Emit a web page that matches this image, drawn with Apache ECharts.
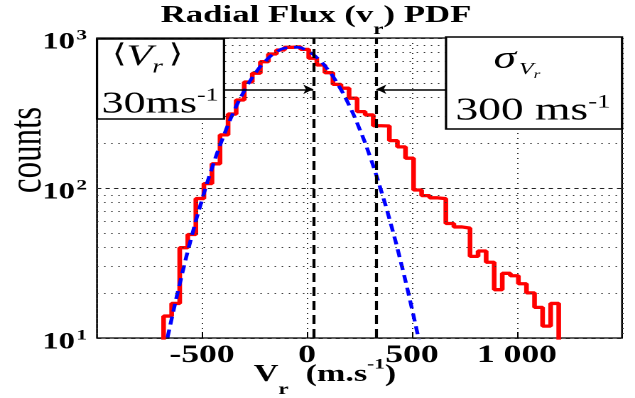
<!DOCTYPE html>
<html>
<head>
<meta charset="utf-8">
<script src="https://cdn.jsdelivr.net/npm/echarts@6/dist/echarts.min.js"></script>
<style>
  html, body { margin: 0; padding: 0; background: #fff; overflow: hidden; }
  #wrap { position: relative; width: 635px; height: 398px; overflow: hidden; }
  #chart { position: absolute; left: 0; top: 0; height: 398px; transform-origin: 0 0; }
</style>
</head>
<body>
<div id="wrap"><div id="chart"></div></div>
<script>
// ---------------- data ----------------
// histogram of radial velocity: bin edges (m/s) and counts per bin
const binEdges = [-683, -644.6, -606.2, -567.8, -529.4, -491, -452.6, -414.2, -375.8, -337.4,
  -299, -260.6, -222.2, -183.8, -145.4, -107, -68.6, -30.2, 8.2, 46.6,
  85, 123.4, 161.8, 200.2, 238.6, 277, 315.4, 353.8, 392.2, 430.6,
  469, 507.4, 545.8, 584.2, 622.6, 661, 699.4, 737.8, 776.2, 814.6,
  853, 891.4, 929.8, 968.2, 1006.6, 1045, 1083.4, 1121.8, 1160.2, 1198.6];
const binCounts = [14, 17, 40, 49, 85, 107, 145, 226, 311, 386,
  509, 582, 695, 782, 832, 867, 874, 840, 733, 661,
  587, 491, 463, 397, 323, 307, 260, 259, 207, 188,
  158, 97, 89, 86, 85, 58, 55, 54, 35, 38,
  32, 21, 27, 26, 23, 20, 16, 12, 17];

// Gaussian fit curve, sampled points
const fitV = [-690, -650, -600, -550, -500, -450, -400, -350, -300, -250, -200, -150, -100,
  -50, 0, 50, 100, 150, 200, 250, 300, 350, 400, 450, 500, 550];
const fitCounts = [6.8, 12.4, 24.9, 47.1, 83.5, 139, 217, 320, 441, 572, 697, 798, 858,
  867, 822, 733, 614, 483, 357, 248, 162, 99, 57, 30.8, 15.6, 7.5];

// statistics (m/s)
const meanV = 30;
const sigmaV = 300;

// axis ticks
const xTickValues = [-500, 0, 500, 1000];
const xTickTexts = ['-500', '0', '500', '1 000'];
const yTickValues = [10, 100, 1000];
const yTickExps = ['1', '2', '3'];
const yMinorValues = [20, 30, 40, 50, 60, 70, 80, 90, 200, 300, 400, 500, 600, 700, 800, 900];

// ---------------- layout ----------------
// the figure is drawn narrow and stretched horizontally to the page width
const W = 447;
const S = 635 / W;
const sx = px => px / S;
const chartEl = document.getElementById('chart');
chartEl.style.width = W + 'px';
chartEl.style.transform = 'scaleX(' + S + ')';

const serif = '"Liberation Serif", "Times New Roman", "DejaVu Serif", serif';

// step outline of the histogram
const stairs = [[binEdges[0], 1]];
binCounts.forEach((c, i) => {
  stairs.push([binEdges[i], c], [binEdges[i + 1], c]);
});
stairs.push([binEdges[binEdges.length - 1], 1]);

const fitData = fitV.map((v, i) => [v, fitCounts[i]]);

const arrowLevel = 455;

const chart = echarts.init(chartEl, null, { renderer: 'canvas', devicePixelRatio: 2 });

const option = {
  animation: false,
  textStyle: { fontFamily: serif },
  grid: {
    left: sx(97), right: W - sx(622), top: 38, bottom: 60,
    show: true, borderColor: '#000', borderWidth: 1.3, backgroundColor: '#fff'
  },
  xAxis: {
    type: 'value', min: -1000, max: 1500, interval: 500,
    axisLine: { show: false },
    axisTick: { show: true, inside: true, length: 6, lineStyle: { color: '#000', width: 1 } },
    axisLabel: {
      margin: 5, color: '#000', fontFamily: serif, fontWeight: 'bold', fontSize: 25,
      showMinLabel: false, showMaxLabel: false,
      formatter: v => {
        const i = xTickValues.indexOf(Math.round(v));
        return i >= 0 ? xTickTexts[i] : '';
      }
    },
    splitLine: { show: true, lineStyle: { color: '#333', width: 1, type: [1, 4] } }
  },
  yAxis: {
    type: 'log', logBase: 10, min: 10, max: 1000,
    axisLine: { show: false },
    axisTick: { show: false },
    axisLabel: {
      margin: 7,
      formatter: v => {
        const i = yTickValues.indexOf(Math.round(v));
        return i >= 0 ? '{b|10}{e|' + yTickExps[i] + '}' : '';
      },
      rich: {
        b: { fontFamily: serif, fontWeight: 'bold', fontSize: 23, color: '#000', lineHeight: 24, verticalAlign: 'top', padding: [5, 0, 0, 0] },
        e: { fontFamily: serif, fontWeight: 'bold', fontSize: 15, color: '#000', lineHeight: 15, verticalAlign: 'top', padding: [2, 0, 0, 1] }
      }
    },
    splitLine: { show: true, lineStyle: { color: '#222', width: 1, type: [3, 3] } }
  },
  series: [
    {
      type: 'line', data: [], z: 1, silent: true,
      markLine: {
        silent: true, symbol: ['none', 'none'], label: { show: false }, animation: false,
        lineStyle: { color: '#333', width: 1, type: [1, 4] },
        data: yMinorValues.map(v => ({ yAxis: v }))
      }
    },
    {
      type: 'line', name: 'counts', data: stairs, symbol: 'none', showSymbol: false,
      lineStyle: { color: '#ff0000', width: 3.3 }, z: 3, clip: true, silent: true
    },
    {
      type: 'line', name: 'fit', data: fitData, symbol: 'none', showSymbol: false, smooth: true,
      lineStyle: { color: '#0000ff', width: 2.7, type: [8, 5] }, z: 4, clip: true, silent: true
    },
    {
      type: 'line', data: [], z: 5, silent: true,
      markLine: {
        silent: true, symbol: ['none', 'none'], label: { show: false }, animation: false,
        lineStyle: { color: '#000', width: 2.1, type: [9, 5] },
        data: [{ xAxis: meanV }, { xAxis: meanV + sigmaV }]
      }
    },
    {
      type: 'line', data: [], z: 6, silent: true,
      markLine: {
        silent: true, symbol: ['none', 'arrow'], symbolSize: 7, label: { show: false }, animation: false,
        lineStyle: { color: '#000', width: 1.6, type: 'solid' },
        data: [
          [{ coord: [-396, arrowLevel] }, { coord: [meanV, arrowLevel] }],
          [{ coord: [663, arrowLevel] }, { coord: [meanV + sigmaV, arrowLevel] }]
        ]
      }
    }
  ],
  graphic: [
    // title
    {
      type: 'text', x: sx(316), y: 3, z: 100,
      style: {
        text: '{a|Radial Flux (v}{s|r}{a|) PDF}', align: 'center', verticalAlign: 'top',
        rich: {
          a: { fontFamily: serif, fontWeight: 'bold', fontSize: 24.5, lineHeight: 27, verticalAlign: 'top', fill: '#000' },
          s: { fontFamily: serif, fontWeight: 'bold', fontSize: 16, lineHeight: 14, verticalAlign: 'top', padding: [19, 0, 0, 0], fill: '#000' }
        }
      }
    },
    // x axis name
    {
      type: 'text', x: sx(325), y: 357, z: 100,
      style: {
        text: '{a|V}{s|r}{a|  (m.s}{p|-1}{a|)}', align: 'center', verticalAlign: 'top',
        rich: {
          a: { fontFamily: serif, fontWeight: 'bold', fontSize: 24, lineHeight: 25, verticalAlign: 'top', padding: [6, 0, 0, 0], fill: '#000' },
          s: { fontFamily: serif, fontWeight: 'bold', fontSize: 16, lineHeight: 14, verticalAlign: 'top', padding: [25, 0, 0, 0], fill: '#000' },
          p: { fontFamily: serif, fontWeight: 'bold', fontSize: 15, lineHeight: 15, verticalAlign: 'top', padding: [0, 0, 0, 0], fill: '#000' }
        }
      }
    },
    // y axis name
    {
      type: 'text', x: sx(28), y: 150, rotation: Math.PI / 2, z: 100,
      style: { text: 'counts', align: 'center', verticalAlign: 'middle', fontFamily: serif, fontSize: 33, fill: '#000' }
    },
    // mean box
    {
      type: 'rect', z: 100,
      shape: { x: sx(97), y: 39, width: sx(224) - sx(97), height: 80 },
      style: { fill: '#fff', stroke: '#000', lineWidth: 1.6 }
    },
    {
      type: 'text', x: sx(147.5), y: 42, z: 101,
      style: {
        text: '{l|\u27E8}{v|V}{s|r}{l|\u27E9}', align: 'center', verticalAlign: 'top',
        rich: {
          l: { fontFamily: '"DejaVu Serif", "DejaVu Sans", serif', fontSize: 26, lineHeight: 32, verticalAlign: 'top', fill: '#000' },
          v: { fontFamily: serif, fontStyle: 'italic', fontSize: 30, lineHeight: 32, verticalAlign: 'top', fill: '#000' },
          s: { fontFamily: serif, fontStyle: 'italic', fontSize: 19, lineHeight: 18, verticalAlign: 'top', padding: [16, 4, 0, 0], fill: '#000' }
        }
      }
    },
    {
      type: 'text', x: sx(160), y: 87, z: 101,
      style: {
        text: '{n|30ms}{p|-1}', align: 'center', verticalAlign: 'top',
        rich: {
          n: { fontFamily: serif, fontSize: 31, lineHeight: 32, verticalAlign: 'top', padding: [2, 0, 0, 0], fill: '#000' },
          p: { fontFamily: serif, fontSize: 18, lineHeight: 18, verticalAlign: 'top', fill: '#000' }
        }
      }
    },
    // standard deviation box
    {
      type: 'rect', z: 100,
      shape: { x: sx(446), y: 37, width: sx(622) - sx(446), height: 92 },
      style: { fill: '#fff', stroke: '#000', lineWidth: 1.6 }
    },
    {
      type: 'text', x: sx(517), y: 43, z: 101,
      style: {
        text: '{g|\u03C3}{v|V}{r|r}', align: 'center', verticalAlign: 'top',
        rich: {
          g: { fontFamily: serif, fontStyle: 'italic', fontSize: 32, lineHeight: 32, verticalAlign: 'top', fill: '#000' },
          v: { fontFamily: serif, fontStyle: 'italic', fontSize: 17, lineHeight: 18, verticalAlign: 'top', padding: [18, 0, 0, 2], fill: '#000' },
          r: { fontFamily: serif, fontStyle: 'italic', fontSize: 12, lineHeight: 12, verticalAlign: 'top', padding: [26, 0, 0, 0], fill: '#000' }
        }
      }
    },
    {
      type: 'text', x: sx(533), y: 93, z: 101,
      style: {
        text: '{n|300 ms}{p|-1}', align: 'center', verticalAlign: 'top',
        rich: {
          n: { fontFamily: serif, fontSize: 32, lineHeight: 32, verticalAlign: 'top', padding: [2, 0, 0, 0], fill: '#000' },
          p: { fontFamily: serif, fontSize: 19, lineHeight: 19, verticalAlign: 'top', fill: '#000' }
        }
      }
    }
  ]
};

chart.setOption(option);
</script>
</body>
</html>
